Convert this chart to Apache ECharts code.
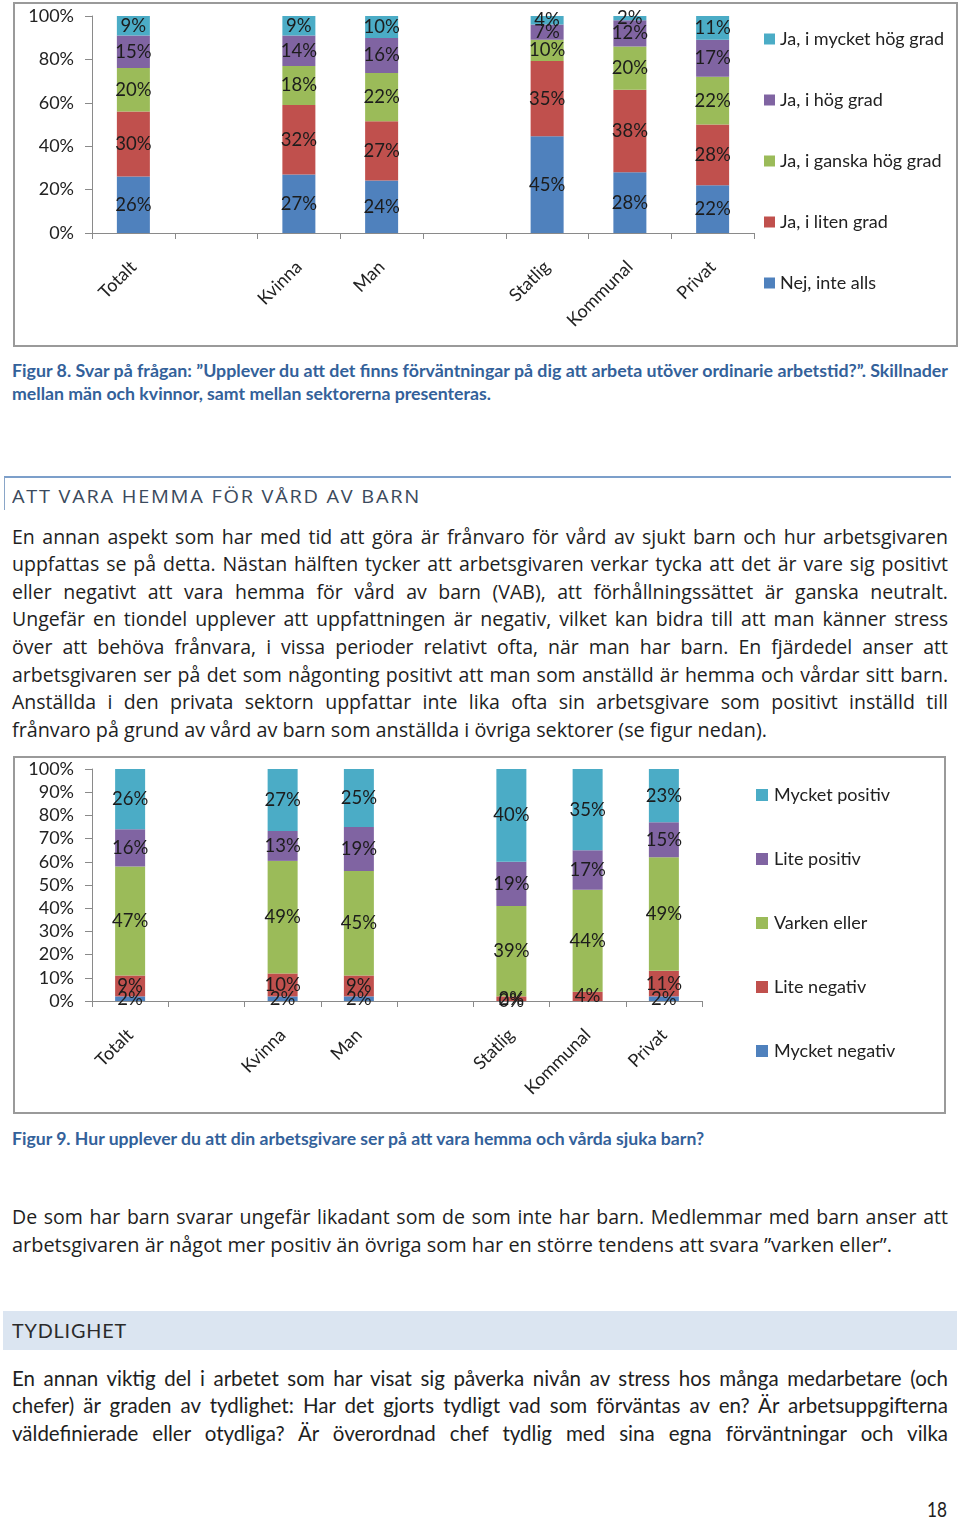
<!DOCTYPE html>
<html><head><meta charset="utf-8">
<script src="https://cdn.jsdelivr.net/npm/echarts@6/dist/echarts.min.js"></script>
<style>
html,body{margin:0;padding:0;background:#fff;}
body{width:960px;height:1518px;position:relative;overflow:hidden;}
.ln{position:absolute;white-space:nowrap;transform-origin:0 50%;color:#1e1e1e;}
.op{font-family:"Open Sans";font-size:19.5px;line-height:24px;}
.cb{font-family:Lato;font-size:20.5px;line-height:24px;}
.cap{font-family:Lato;font-weight:bold;font-size:16.5px;line-height:20px;color:#33619a;}
#c1{position:absolute;left:0;top:0;width:960px;height:350px;}
#c2{position:absolute;left:0;top:750px;width:960px;height:370px;}
#h1box{position:absolute;left:4px;top:476px;width:946px;height:32px;border-top:2px solid #7c9fca;border-left:1.5px solid #8aa6c8;}
#h2box{position:absolute;left:3px;top:1311px;width:954px;height:39px;background:#dbe5f1;}
</style></head><body>
<div id="c1"></div>
<div id="c2"></div>
<div id="h1box"></div>
<div id="h2box"></div>
<div id="txt"></div>
<script>
// ---------- data ----------
const categories = ['Totalt', '', 'Kvinna', 'Man', '', 'Statlig', 'Kommunal', 'Privat'];

// Figur 8
const fig8Names = ['Nej, inte alls', 'Ja, i liten grad', 'Ja, i ganska hög grad', 'Ja, i hög grad', 'Ja, i mycket hög grad'];
const nejInteAlls    = [26, null, 27, 24, null, 45, 28, 22];
const jaLitenGrad    = [30, null, 32, 27, null, 35, 38, 28];
const jaGanskaHog    = [20, null, 18, 22, null, 10, 20, 22];
const jaHogGrad      = [15, null, 14, 16, null, 7, 12, 17];
const jaMycketHog    = [9, null, 9, 10, null, 4, 2, 11];
const fig8TickLabels = ['0%', '20%', '40%', '60%', '80%', '100%'];

// Figur 9
const fig9Names = ['Mycket negativ', 'Lite negativ', 'Varken eller', 'Lite positiv', 'Mycket positiv'];
const mycketNegativ  = [2, null, 2, 2, null, 0, null, 2];
const liteNegativ    = [9, null, 10, 9, null, 2, 4, 11];
const varkenEller    = [47, null, 49, 45, null, 39, 44, 49];
const litePositiv    = [16, null, 13, 19, null, 19, 17, 15];
const mycketPositiv  = [26, null, 27, 25, null, 40, 35, 23];
const fig9TickLabels = ['0%', '10%', '20%', '30%', '40%', '50%', '60%', '70%', '80%', '90%', '100%'];

const colors = ['#4f81bd', '#c0504d', '#9bbb59', '#8064a2', '#4bacc6'];

// ---------- chart builder ----------
function build(el, names, raws, opt) {
  const chart = echarts.init(el, null, {renderer: 'canvas'});
  const sums = categories.map((c, i) => raws.reduce((s, r) => s + (r[i] == null ? 0 : r[i]), 0));
  const series = raws.map((r, k) => ({
    name: names[k], type: 'bar', stack: 'all', barWidth: opt.barWidth,
    itemStyle: {color: colors[k]},
    data: r.map((v, i) => v == null ? null : v / sums[i] * 100),
    label: {show: true, position: 'inside', color: '#1c1c1c', fontFamily: 'Lato', fontSize: 18.5,
      formatter: p => r[p.dataIndex] + '%'},
    emphasis: {disabled: true}
  }));
  chart.setOption({
    animation: false,
    grid: opt.grid,
    legend: {orient: 'vertical', left: opt.legendLeft, top: opt.legendTop, icon: 'rect',
      itemWidth: opt.sq, itemHeight: opt.sq, itemGap: opt.legendGap,
      data: names.slice().reverse(),
      textStyle: {fontFamily: 'Lato', fontSize: 18, color: '#222', lineHeight: 20, padding: [0, 0, 0, opt.txtPad]},
      selectedMode: false},
    xAxis: {type: 'category', data: categories,
      axisLine: {lineStyle: {color: '#8a8a8a', width: 1}},
      axisTick: {show: true, length: 6, lineStyle: {color: '#8a8a8a'}, interval: 0},
      axisLabel: {rotate: 45, interval: 0, margin: opt.xMargin, fontFamily: 'Lato', fontSize: 18, color: '#222'}},
    yAxis: {type: 'value', min: 0, max: 100, interval: opt.interval,
      axisLine: {show: true, lineStyle: {color: '#8a8a8a'}},
      axisTick: {show: true, length: 7, lineStyle: {color: '#8a8a8a'}},
      splitLine: {show: false},
      axisLabel: {margin: 18, fontFamily: 'Lato', fontSize: 18, color: '#222',
        formatter: v => opt.ticks[Math.round(v / opt.interval)]}},
    graphic: [{type: 'rect', shape: opt.frame, style: {fill: 'none', stroke: '#9a9a9a', lineWidth: 2}, silent: true}],
    series: series
  });
}

build(document.getElementById('c1'), fig8Names,
  [nejInteAlls, jaLitenGrad, jaGanskaHog, jaHogGrad, jaMycketHog],
  {barWidth: 33, grid: {left: 92, right: 206, top: 16, bottom: 117},
   legendLeft: 759, legendTop: 24, sq: 11, legendGap: 41, txtPad: 0, xMargin: 31, interval: 20,
   ticks: fig8TickLabels, frame: {x: 14, y: 3, width: 943, height: 343}});

build(document.getElementById('c2'), fig9Names,
  [mycketNegativ, liteNegativ, varkenEller, litePositiv, mycketPositiv],
  {barWidth: 30, grid: {left: 92, right: 258, top: 19, bottom: 119},
   legendLeft: 751, legendTop: 30, sq: 12, legendGap: 44, txtPad: 1, xMargin: 31, interval: 10,
   ticks: fig9TickLabels, frame: {x: 14, y: 7, width: 931, height: 356}});

// ---------- text ----------
const lines = [
  ['cap', 371, 12, 948, 0, 'Figur 8. Svar på frågan: ”Upplever du att det finns förväntningar på dig att arbeta utöver ordinarie arbetstid?”. Skillnader'],
  ['cap', 394, 12, 491, 0, 'mellan män och kvinnor, samt mellan sektorerna presenteras.'],
  ['op', 537, 12, 948, 1, 'En annan aspekt som har med tid att göra är frånvaro för vård av sjukt barn och hur arbetsgivaren'],
  ['op', 564, 12, 948, 1, 'uppfattas se på detta. Nästan hälften tycker att arbetsgivaren verkar tycka att det är vare sig positivt'],
  ['op', 592, 12, 948, 1, 'eller negativt att vara hemma för vård av barn (VAB), att förhållningssättet är ganska neutralt.'],
  ['op', 619, 12, 948, 1, 'Ungefär en tiondel upplever att uppfattningen är negativ, vilket kan bidra till att man känner stress'],
  ['op', 647, 12, 948, 1, 'över att behöva frånvara, i vissa perioder relativt ofta, när man har barn. En fjärdedel anser att'],
  ['op', 675, 12, 948, 1, 'arbetsgivaren ser på det som någonting positivt att man som anställd är hemma och vårdar sitt barn.'],
  ['op', 702, 12, 948, 1, 'Anställda i den privata sektorn uppfattar inte lika ofta sin arbetsgivare som positivt inställd till'],
  ['op', 730, 12, 767, 0, 'frånvaro på grund av vård av barn som anställda i övriga sektorer (se figur nedan).'],
  ['cap', 1139, 12, 704, 0, 'Figur 9. Hur upplever du att din arbetsgivare ser på att vara hemma och vårda sjuka barn?'],
  ['op', 1217, 12, 948, 1, 'De som har barn svarar ungefär likadant som de som inte har barn. Medlemmar med barn anser att'],
  ['op', 1245, 12, 892, 0, 'arbetsgivaren är något mer positiv än övriga som har en större tendens att svara ”varken eller”.'],
  ['cb', 1378, 12, 948, 1, 'En annan viktig del i arbetet som har visat sig påverka nivån av stress hos många medarbetare (och'],
  ['cb', 1405, 12, 948, 1, 'chefer) är graden av tydlighet: Har det gjorts tydligt vad som förväntas av en? Är arbetsuppgifterna'],
  ['cb', 1433, 12, 948, 1, 'väldefinierade eller otydliga? Är överordnad chef tydlig med sina egna förväntningar och vilka'],
  ['cb', 1509, 927, 947, 0, '18']
];
const txt = document.getElementById('txt');
lines.forEach(l => {
  const d = document.createElement('div');
  d.className = 'ln ' + l[0];
  d.textContent = l[5];
  d.style.left = l[2] + 'px';
  d.style.top = (l[1] - (l[0] === 'cap' ? 10 : 12)) + 'px';
  d.dataset.x1 = l[3]; d.dataset.x0 = l[2]; d.dataset.j = l[4];
  txt.appendChild(d);
});
// headings
const hA = document.createElement('div');
hA.className = 'ln'; hA.textContent = 'ATT VARA HEMMA FÖR VÅRD AV BARN';
hA.style.cssText = 'left:12px;top:484px;font-family:"Open Sans";font-size:18.5px;line-height:24px;letter-spacing:1.6px;color:#3b4a5d;';
hA.dataset.x0 = 12; hA.dataset.x1 = 421; hA.dataset.j = 0;
txt.appendChild(hA);
const hB = document.createElement('div');
hB.className = 'ln'; hB.textContent = 'TYDLIGHET';
hB.style.cssText = 'left:12px;top:1319px;font-family:Lato;font-size:19px;line-height:24px;letter-spacing:0.8px;color:#2b2b2b;';
hB.dataset.x0 = 12; hB.dataset.x1 = 127; hB.dataset.j = 0;
txt.appendChild(hB);

function fit() {
  document.querySelectorAll('.ln').forEach(el => {
    el.style.transform = ''; el.style.wordSpacing = '';
    const target = (+el.dataset.x1) - (+el.dataset.x0);
    const w = el.getBoundingClientRect().width;
    const n = (el.textContent.match(/ /g) || []).length;
    if (el.dataset.j === '1' && w < target && n > 0) {
      el.style.wordSpacing = ((target - w) / n) + 'px';
    } else {
      el.style.transform = 'scaleX(' + (target / w) + ')';
    }
  });
}
fit();
if (document.fonts && document.fonts.ready) document.fonts.ready.then(fit);
</script>
</body></html>
